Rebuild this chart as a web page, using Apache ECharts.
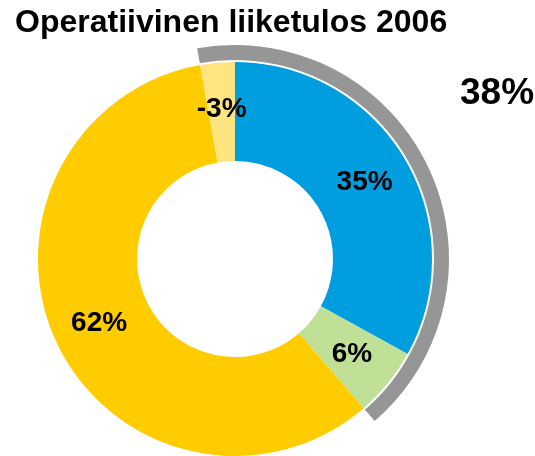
<!DOCTYPE html>
<html>
<head>
<meta charset="utf-8">
<script src="https://cdn.jsdelivr.net/npm/echarts@6/dist/echarts.min.js"></script>
<style>
  html, body { margin: 0; padding: 0; background: #fff; }
  #chart { width: 535px; height: 456px; }
</style>
</head>
<body>
<div id="chart"></div>
<script>
// slices, clockwise from 12 o'clock
const sliceNames = ['Segment A', 'Segment B', 'Segment C', 'Segment D']
const sliceValues = [35, 6, 62, 3]
const sliceLabels = ['35%', '6%', '62%', '-3%']
const sliceColors = ['#009EDF', '#BFE096', '#FFCC00', '#FFE57F']
// grey bracket over D + A + B, rest hidden
const bracketValues = [44, 62]
const bracketLabel = '38%'

const total = sliceValues.reduce((a, b) => a + b, 0)
const chart = echarts.init(document.getElementById('chart'))

chart.setOption({
  animation: false,
  title: {
    text: 'Operatiivinen liiketulos 2006',
    left: 15,
    top: 7,
    padding: 0,
    textStyle: {
      fontFamily: 'Liberation Sans',
      fontWeight: 'bold',
      fontSize: 32,
      color: '#000',
    },
  },
  graphic: [
    {
      type: 'text',
      left: 460,
      top: 75,
      style: {
        text: bracketLabel,
        font: 'bold 37px "Liberation Sans"',
        fill: '#000',
      },
    },
  ],
  series: [
    {
      type: 'pie',
      center: [235, 259],
      radius: [98, 197],
      startAngle: 90,
      clockwise: true,
      silent: true,
      data: sliceValues.map((v, i) => ({
        name: sliceNames[i],
        value: v,
        itemStyle: { color: sliceColors[i] },
      })),
      label: {
        position: 'inside',
        formatter: (p) => sliceLabels[p.dataIndex],
        fontFamily: 'Liberation Sans',
        fontWeight: 'bold',
        fontSize: 28,
        color: '#000',
      },
      labelLine: { show: false },
      emphasis: { disabled: true },
    },
    {
      type: 'pie',
      center: [235, 259],
      radius: [199, 214],
      startAngle: 90 + (sliceValues[3] / total) * 360,
      clockwise: true,
      silent: true,
      data: bracketValues.map((v, i) => ({
        value: v,
        itemStyle: { color: i === 0 ? '#969696' : 'rgba(0,0,0,0)' },
      })),
      label: { show: false },
      labelLine: { show: false },
      emphasis: { disabled: true },
    },
  ],
})
</script>
</body>
</html>
